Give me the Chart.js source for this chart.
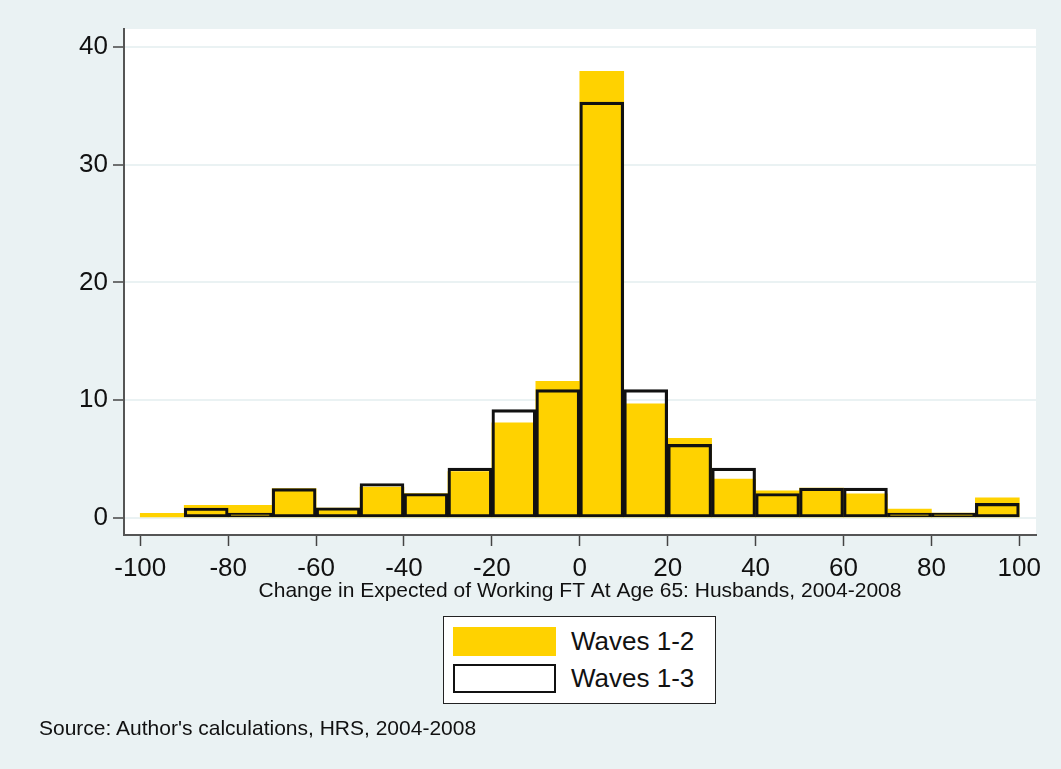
<!DOCTYPE html>
<html>
<head>
<meta charset="utf-8">
<script src="https://cdn.jsdelivr.net/npm/chart.js@4/dist/chart.umd.min.js"></script>
<style>
  html, body { margin: 0; padding: 0; background: #EAF2F3; }
  #wrap { position: relative; width: 1061px; height: 769px; font-family: "Liberation Sans", Arial, sans-serif; }
  #c { position: absolute; left: 0; top: 0; }
  #legend { position: absolute; left: 443px; top: 616px; width: 273px; height: 88px; background: #fff; border: 1px solid #222; box-sizing: border-box; }
  .item { position: absolute; left: 9px; height: 29px; display: flex; align-items: center; }
  .sw { width: 103px; height: 29px; box-sizing: border-box; }
  .lbl { position: absolute; left: 118px; font-size: 26px; color: #111; white-space: nowrap; line-height: 29px; }
  #source { position: absolute; left: 39px; top: 716px; font-size: 21px; color: #111; white-space: nowrap; }
</style>
</head>
<body>
<div id="wrap">
  <canvas id="c" width="1061" height="769"></canvas>
  <div id="legend">
    <div class="item" style="top:10px;"><div class="sw" style="background:#FFD200;"></div><span class="lbl">Waves 1-2</span></div>
    <div class="item" style="top:47px;"><div class="sw" style="background:#fff;border:2.5px solid #111;"></div><span class="lbl">Waves 1-3</span></div>
  </div>
  <div id="source">Source: Author's calculations, HRS, 2004-2008</div>
</div>
<script>
// Bin starts (width 10) for the histogram
const binStarts = [-100, -90, -80, -70, -60, -50, -40, -30, -20, -10, 0, 10, 20, 30, 40, 50, 60, 70, 80, 90];
const binWidth = 10;
// Percent per bin
const waves12 = [0.4, 1.07, 1.07, 2.5, 0.85, 2.62, 2.08, 3.94, 8.08, 11.6, 37.9, 9.7, 6.76, 3.3, 2.31, 2.54, 2.06, 0.76, 0.42, 1.72];
const waves13 = [null, 0.85, 0.42, 2.5, 0.87, 2.93, 2.08, 4.23, 9.2, 10.9, 35.3, 10.9, 6.25, 4.23, 2.08, 2.54, 2.54, 0.42, 0.42, 1.24];
const xTicks = [-100, -80, -60, -40, -20, 0, 20, 40, 60, 80, 100];
const yTicks = [0, 10, 20, 30, 40];
const seriesNames = ["Waves 1-2", "Waves 1-3"];
const xTitle = "Change in Expected of Working FT At Age 65: Husbands, 2004-2008";

const toPoints = vals => binStarts.map((s, i) => ({ x: s + binWidth / 2, y: vals[i] }));

const bgPlugin = {
  id: 'bg',
  beforeDraw(chart) {
    const { ctx, chartArea: a } = chart;
    ctx.save();
    ctx.fillStyle = '#EAF2F3';
    ctx.fillRect(0, 0, chart.width, chart.height);
    ctx.fillStyle = '#FFFFFF';
    ctx.fillRect(a.left, a.top, a.right - a.left, a.bottom - a.top);
    ctx.restore();
  }
};

const FONT = "'Liberation Sans', Arial, sans-serif";

new Chart(document.getElementById('c'), {
  type: 'bar',
  data: {
    datasets: [
      {
        label: seriesNames[1],
        data: toPoints(waves13),
        backgroundColor: 'rgba(0,0,0,0)',
        borderColor: '#111',
        borderWidth: 2.5,
        borderSkipped: false,
        grouped: false,
        barPercentage: 1,
        categoryPercentage: 1,
        order: 1
      },
      {
        label: seriesNames[0],
        data: toPoints(waves12),
        backgroundColor: '#FFD200',
        borderWidth: 0,
        grouped: false,
        barPercentage: 1,
        categoryPercentage: 1,
        order: 2
      }
    ]
  },
  options: {
    responsive: false,
    animation: false,
    layout: { padding: { left: 0, top: 29, right: 25, bottom: 161 } },
    plugins: { legend: { display: false }, tooltip: { enabled: false } },
    scales: {
      x: {
        type: 'linear',
        offset: false,
        min: -103.7,
        max: 103.8,
        afterBuildTicks: s => { s.ticks = xTicks.map(v => ({ value: v })); },
        afterFit: s => { s.height = 73; },
        grid: { display: true, offset: false, drawOnChartArea: false, tickLength: 11, tickColor: '#444', tickWidth: 1.5 },
        border: { color: '#555', width: 2 },
        ticks: { font: { family: FONT, size: 26 }, color: '#111', padding: 7, maxRotation: 0, autoSkip: false },
        title: { display: true, text: xTitle, font: { family: FONT, size: 21 }, color: '#111', padding: { top: 4, bottom: 4 } }
      },
      y: {
        min: -1.44,
        max: 41.5,
        afterBuildTicks: s => { s.ticks = yTicks.map(v => ({ value: v })); },
        afterFit: s => { s.width = 124; },
        grid: { color: '#EAF2F3', lineWidth: 2, tickLength: 11, tickColor: '#444', tickWidth: 1.5 },
        border: { color: '#555', width: 2 },
        ticks: { font: { family: FONT, size: 26 }, color: '#111', padding: 5 }
      }
    }
  },
  plugins: [bgPlugin]
});
</script>
</body>
</html>
